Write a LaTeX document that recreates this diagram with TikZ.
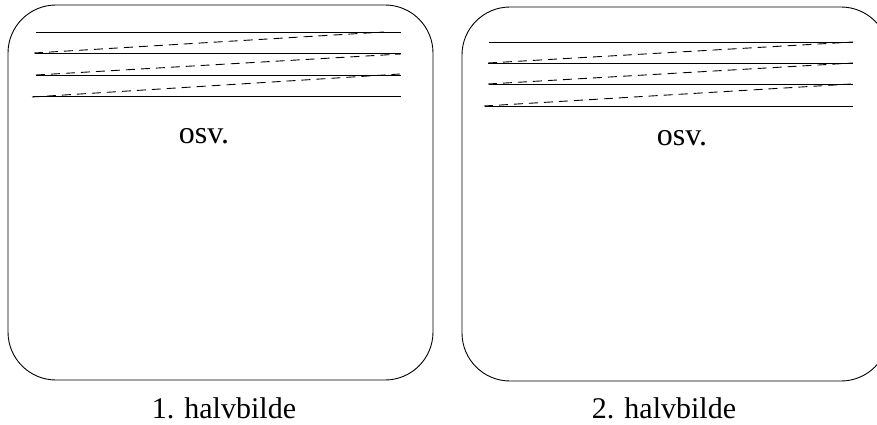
\documentclass[tikz,border=0pt]{standalone}
\usepackage{fontspec}
\setmainfont{Liberation Serif}
\tikzset{
  frame/.style={draw=black, line width=0.9pt, rounded corners=48pt},
  scanline/.style={draw=black, line width=0.9pt},
  retrace/.style={draw=black, line width=0.9pt, dash pattern=on 9pt off 6pt},
  caption/.style={anchor=base, inner sep=0pt, font=\fontsize{30}{36}\selectfont},
  etc/.style={anchor=base, inner sep=0pt, font=\fontsize{32}{38}\selectfont},
}
\begin{document}
\begin{tikzpicture}[x=1pt, y=-1pt]
\useasboundingbox (0,0) rectangle (877,425);
\clip (0,0) rectangle (877,425);
% left frame
\draw[frame] (8,5) rectangle (433,380);
\draw[scanline] (36,32) -- (401,32);
\draw[scanline] (35,53) -- (401,53);
\draw[scanline] (36,75) -- (401,75);
\draw[scanline] (33,96) -- (401,96);
\draw[retrace] (34,53) -- (384,32);
\draw[retrace] (36,75) -- (401,54);
\draw[retrace] (32,97) -- (400,74);
\node[etc] (osvA) at (204,143) {osv.};
\node[caption] (capA) at (224,418) {1. halvbilde};
% right frame
\draw[frame] (462,7) rectangle (889,381);
\draw[scanline] (489,42) -- (853,42);
\draw[scanline] (488,63) -- (853,63);
\draw[scanline] (489,84) -- (853,84);
\draw[scanline] (485,106) -- (853,106);
\draw[retrace] (488,63) -- (853,42);
\draw[retrace] (488,84) -- (853,63);
\draw[retrace] (484,106) -- (851,84);
\node[etc] (osvB) at (682,145) {osv.};
\node[caption] (capB) at (664,418) {2. halvbilde};
\end{tikzpicture}
\end{document}
